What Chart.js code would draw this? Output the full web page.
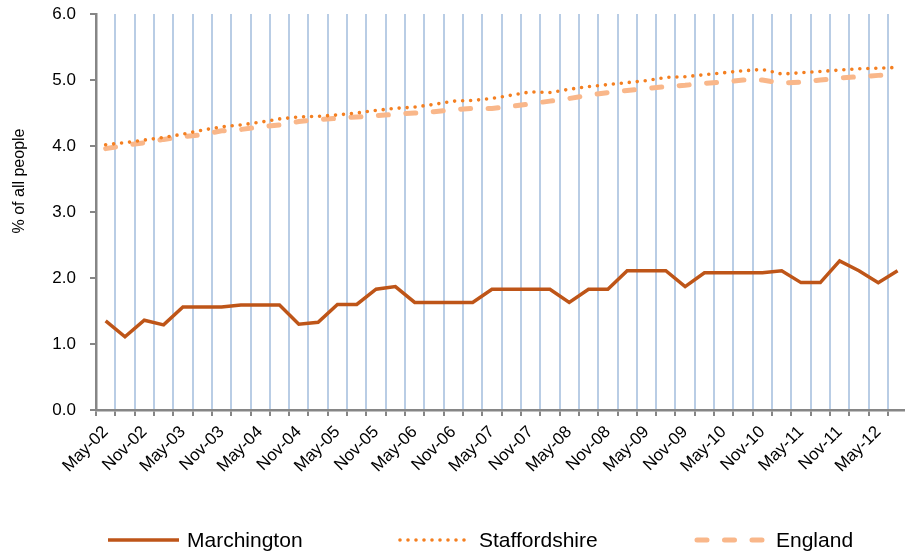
<!DOCTYPE html>
<html>
<head>
<meta charset="utf-8">
<script src="https://cdn.jsdelivr.net/npm/chart.js@4.4.1/dist/chart.umd.min.js"></script>
<style>
  html, body { margin: 0; padding: 0; overflow: hidden; background: #fff; }
  #wrap { width: 905px; height: 555px; overflow: hidden; }
  canvas { display: block; }
</style>
</head>
<body>
<div id="wrap"><canvas id="peopleChart" width="918" height="555"></canvas></div>
<script>
    // Quarterly categories, May-02 to Aug-12 (only every other one is labelled)
    const quarters = [
      'May-02','Aug-02','Nov-02','Feb-03','May-03','Aug-03','Nov-03','Feb-04',
      'May-04','Aug-04','Nov-04','Feb-05','May-05','Aug-05','Nov-05','Feb-06',
      'May-06','Aug-06','Nov-06','Feb-07','May-07','Aug-07','Nov-07','Feb-08',
      'May-08','Aug-08','Nov-08','Feb-09','May-09','Aug-09','Nov-09','Feb-10',
      'May-10','Aug-10','Nov-10','Feb-11','May-11','Aug-11','Nov-11','Feb-12',
      'May-12','Aug-12'
    ];

    const marchington = [
      1.35, 1.11, 1.36, 1.29, 1.56, 1.56, 1.56, 1.59, 1.59, 1.59, 1.30, 1.33,
      1.60, 1.60, 1.83, 1.87, 1.63, 1.63, 1.63, 1.63, 1.83, 1.83, 1.83, 1.83,
      1.63, 1.83, 1.83, 2.11, 2.11, 2.11, 1.87, 2.08, 2.08, 2.08, 2.08, 2.11,
      1.93, 1.93, 2.26, 2.11, 1.93, 2.11
    ];

    const staffordshire = [
      4.02, 4.05, 4.09, 4.13, 4.18, 4.24, 4.29, 4.32, 4.36, 4.41, 4.44, 4.45,
      4.47, 4.50, 4.54, 4.57, 4.59, 4.63, 4.68, 4.69, 4.72, 4.77, 4.82, 4.81,
      4.86, 4.90, 4.93, 4.96, 4.99, 5.04, 5.05, 5.08, 5.11, 5.14, 5.16, 5.09,
      5.11, 5.13, 5.15, 5.17, 5.18, 5.19
    ];

    const england = [
      3.96, 4.01, 4.05, 4.10, 4.14, 4.17, 4.23, 4.25, 4.29, 4.32, 4.37, 4.40,
      4.42, 4.44, 4.46, 4.48, 4.50, 4.52, 4.55, 4.57, 4.57, 4.60, 4.64, 4.68,
      4.72, 4.77, 4.81, 4.84, 4.87, 4.90, 4.92, 4.95, 4.97, 5.00, 5.00, 4.95,
      4.97, 5.00, 5.03, 5.05, 5.07, 5.09
    ];

    const yTicks = [0, 1, 2, 3, 4, 5, 6];
    const yTitle = '% of all people';

    const axisGrey = '#868686';
    const gridBlue = '#B9CDE5';

    Chart.defaults.font.family = "'Liberation Sans', Arial, sans-serif";
    Chart.defaults.color = '#000';

    // Rotated y-axis title, sits a bit above the middle like the original
    const yTitlePlugin = {
      id: 'yTitle',
      afterDraw(chart) {
        const ctx = chart.ctx;
        ctx.save();
        ctx.translate(20, 181);
        ctx.rotate(-Math.PI / 2);
        ctx.font = "16px 'Liberation Sans', Arial, sans-serif";
        ctx.fillStyle = '#000';
        ctx.textAlign = 'center';
        ctx.textBaseline = 'middle';
        ctx.fillText(yTitle, 0, 0);
        ctx.restore();
      }
    };

    // Legend along the bottom, line samples use each dataset's own style
    const legendPlugin = {
      id: 'lineLegend',
      afterDraw(chart) {
        const ctx = chart.ctx;
        const starts = [108, 400, 697];
        const y = 540;
        ctx.save();
        chart.data.datasets.forEach((ds, i) => {
          const x = starts[i];
          ctx.beginPath();
          ctx.strokeStyle = ds.borderColor;
          ctx.lineWidth = ds.borderWidth;
          ctx.lineCap = ds.borderCapStyle || 'butt';
          ctx.setLineDash(ds.borderDash || []);
          ctx.moveTo(x, y);
          ctx.lineTo(x + 71, y);
          ctx.stroke();
          ctx.setLineDash([]);
          ctx.font = "21px 'Liberation Sans', Arial, sans-serif";
          ctx.fillStyle = '#000';
          ctx.textAlign = 'left';
          ctx.textBaseline = 'middle';
          ctx.fillText(ds.label, x + 79, y + 1);
        });
        ctx.restore();
      }
    };

    const ctx = document.getElementById('peopleChart').getContext('2d');
    new Chart(ctx, {
      type: 'line',
      data: {
        labels: quarters,
        datasets: [
          {
            label: 'Marchington',
            data: marchington,
            borderColor: '#BE5518',
            borderWidth: 3.5,
            borderCapStyle: 'butt',
            pointRadius: 0,
            tension: 0
          },
          {
            label: 'Staffordshire',
            data: staffordshire,
            borderColor: '#F47F20',
            borderWidth: 3.6,
            borderDash: [0, 8],
            borderCapStyle: 'round',
            pointRadius: 0,
            tension: 0
          },
          {
            label: 'England',
            data: england,
            borderColor: '#F9B78A',
            borderWidth: 5,
            borderDash: [10, 17.5],
            borderCapStyle: 'round',
            pointRadius: 0,
            tension: 0
          }
        ]
      },
      options: {
        responsive: false,
        animation: false,
        devicePixelRatio: 1,
        layout: { padding: { top: 14, right: 0, bottom: 50, left: 0 } },
        plugins: {
          legend: { display: false },
          tooltip: { enabled: false }
        },
        scales: {
          x: {
            offset: true,
            grid: {
              offset: true,
              color: gridBlue,
              lineWidth: 2,
              tickColor: axisGrey,
              tickWidth: 2,
              tickLength: 6
            },
            border: { color: axisGrey, width: 2.5 },
            ticks: {
              autoSkip: false,
              minRotation: 45,
              maxRotation: 45,
              padding: 6,
              font: { size: 17 },
              callback: (val, i) => (i % 2 === 0 ? quarters[i] : '')
            },
            afterFit: (scale) => { scale.height = 95; }
          },
          y: {
            min: 0,
            max: 6,
            afterBuildTicks: (scale) => { scale.ticks = yTicks.map(v => ({ value: v })); },
            grid: {
              drawOnChartArea: false,
              color: axisGrey,
              lineWidth: 2,
              tickLength: 6
            },
            border: { color: axisGrey, width: 2.5 },
            ticks: {
              padding: 14,
              font: { size: 17 },
              callback: (v) => v.toFixed(1)
            },
            // keep the label gap from pushing the plot down
            afterFit: (scale) => {
              scale.width = 96;
              scale.paddingTop = 10;
              scale.paddingBottom = 10;
            }
          }
        }
      },
      plugins: [yTitlePlugin, legendPlugin]
    });
</script>
</body>
</html>
